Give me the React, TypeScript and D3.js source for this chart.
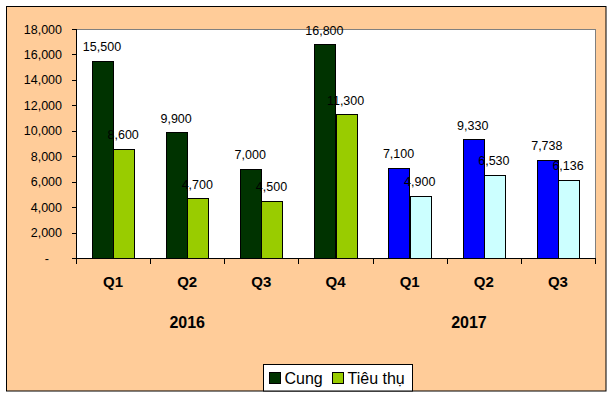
import React from "react"
import * as d3 from "d3"

const quarters = ["Q1", "Q2", "Q3", "Q4", "Q1", "Q2", "Q3"]
const years = ["2016", "2016", "2016", "2016", "2017", "2017", "2017"]
const cung = [15500, 9900, 7000, 16800, 7100, 9330, 7738]
const tieuThu = [8600, 4700, 4500, 11300, 4900, 6530, 6136]
const yTicks = [0, 2000, 4000, 6000, 8000, 10000, 12000, 14000, 16000, 18000]
const yearLabels = ["2016", "2017"]
const yearLabelPos = [1.5, 5.3] // in category units
const seriesNames = ["Cung", "Tiêu thụ"]

const colors2016 = ["#003300", "#99CC00"]
const colors2017 = ["#0000FF", "#CCFFFF"]

const W = 615
const H = 399
const plot = { left: 76, top: 29, right: 595, bottom: 258 }
const font = "'Liberation Sans', Arial, sans-serif"

export default function App() {
  const x = d3
    .scaleBand<number>()
    .domain(d3.range(quarters.length))
    .range([plot.left, plot.right])

  const y = d3
    .scaleLinear()
    .domain([0, 18000])
    .range([plot.bottom, plot.top])

  // Excel style gap width 150%
  const barW = x.bandwidth() / 3.5
  const inner = d3
    .scaleBand<number>()
    .domain([0, 1])
    .range([barW * 0.75, barW * 2.75])

  const xCat = d3
    .scaleLinear()
    .domain([0, quarters.length])
    .range([plot.left, plot.right])

  const fmt = d3.format(",")

  const bars = quarters.flatMap((q, i) =>
    [cung[i], tieuThu[i]].map((v, s) => ({
      i,
      s,
      v,
      fill: (years[i] === "2016" ? colors2016 : colors2017)[s],
    }))
  )

  return (
    <svg
      width={W}
      height={H}
      style={{ position: "absolute", left: 0, top: 0, background: "#fff" }}
      fontFamily={font}
    >
      <rect x={6.5} y={6.5} width={599.5} height={384.5} fill="#FFCC99" stroke="#000" />
      <rect
        x={plot.left}
        y={plot.top}
        width={plot.right - plot.left}
        height={plot.bottom - plot.top}
        fill="#fff"
      />
      <line x1={plot.left} x2={plot.right + 0.5} y1={plot.top + 0.5} y2={plot.top + 0.5} stroke="#808080" />
      <line x1={plot.right + 0.5} x2={plot.right + 0.5} y1={plot.top} y2={plot.bottom} stroke="#808080" />

      {bars.map((b, k) => (
        <rect
          key={k}
          x={Math.round(x(b.i)! + inner(b.s)!) + 0.5}
          y={Math.round(y(b.v)) + 0.5}
          width={Math.round(inner.bandwidth())}
          height={Math.round(y(0)) - Math.round(y(b.v))}
          fill={b.fill}
          stroke="#000"
        />
      ))}

      {/* y axis */}
      <line x1={plot.left + 0.5} x2={plot.left + 0.5} y1={plot.top} y2={plot.bottom + 0.5} stroke="#000" />
      {yTicks.map((t) => (
        <g key={t}>
          <line
            x1={plot.left - 4}
            x2={plot.left}
            y1={Math.round(y(t)) + 0.5}
            y2={Math.round(y(t)) + 0.5}
            stroke="#000"
          />
          <text
            x={t === 0 ? 49 : 62}
            y={y(t) + 4.5}
            textAnchor="end"
            fontSize={12.5}
            fill="#000"
          >
            {t === 0 ? "-" : fmt(t)}
          </text>
        </g>
      ))}

      {/* x axis */}
      <line x1={plot.left} x2={plot.right + 0.5} y1={plot.bottom + 0.5} y2={plot.bottom + 0.5} stroke="#000" />
      {d3.range(quarters.length + 1).map((i) => (
        <line
          key={i}
          x1={Math.round(xCat(i)) + 0.5}
          x2={Math.round(xCat(i)) + 0.5}
          y1={plot.bottom}
          y2={plot.bottom + 6}
          stroke="#000"
        />
      ))}
      {quarters.map((q, i) => (
        <text
          key={i}
          x={x(i)! + x.bandwidth() / 2}
          y={287}
          textAnchor="middle"
          fontSize={15}
          fontWeight="bold"
          fill="#000"
        >
          {q}
        </text>
      ))}
      {yearLabels.map((yr, i) => (
        <text
          key={yr}
          x={xCat(yearLabelPos[i])}
          y={328}
          textAnchor="middle"
          fontSize={16}
          fontWeight="bold"
          fill="#000"
        >
          {yr}
        </text>
      ))}

      {/* data labels */}
      {bars.map((b, k) => (
        <text
          key={k}
          x={x(b.i)! + inner(b.s)! + inner.bandwidth() / 2 - 0.5}
          y={y(b.v) - 9.5}
          textAnchor="middle"
          fontSize={12.5}
          fill="#000"
        >
          {fmt(b.v)}
        </text>
      ))}

      {/* legend */}
      <rect x={263.5} y={364.5} width={149} height={26.5} fill="#fff" stroke="#000" />
      {seriesNames.map((n, i) => (
        <g key={n} transform={`translate(${i === 0 ? 269.5 : 332.5},372.5)`}>
          <rect width={11} height={11} fill={colors2016[i]} stroke="#000" />
          <text x={15} y={11.5} fontSize={16} fill="#000">
            {n}
          </text>
        </g>
      ))}
    </svg>
  )
}
